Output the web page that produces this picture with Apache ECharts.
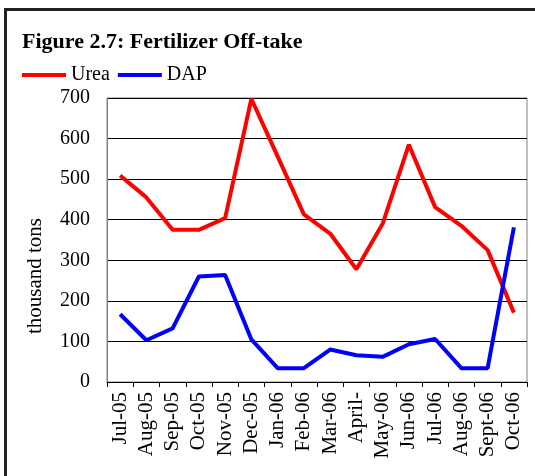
<!DOCTYPE html>
<html><head><meta charset="utf-8">
<script src="https://cdn.jsdelivr.net/npm/echarts@6/dist/echarts.min.js"></script>
<style>html,body{margin:0;padding:0;background:#fff}#c{width:535px;height:476px}</style>
</head><body><div id="c"></div>
<script>
const categories = ['Jul-05','Aug-05','Sep-05','Oct-05','Nov-05','Dec-05','Jan-06','Feb-06','Mar-06','April-','May-06','Jun-06','Jul-06','Aug-06','Sept-06','Oct-06'];
const urea = [509,455,375,375,404,698,556,413,366,278,390,585,431,385,325,171];
const dap = [167,103,132,260,264,105,34,34,80,66,62,93,106,34,34,381];
const yTicks = {min:0, max:700, interval:100};
const serif = 'Liberation Serif';
const chart = echarts.init(document.getElementById('c'), null, {renderer:'canvas'});
chart.setOption({
  animation:false,
  backgroundColor:'#fff',
  title:{text:'Figure 2.7: Fertilizer Off-take', left:17, top:26,
    textStyle:{fontFamily:serif, fontWeight:'bold', fontSize:22, color:'#000'}},
  legend:{left:17, top:60, icon:'rect', itemWidth:44, itemHeight:4, itemGap:8,
    textStyle:{fontFamily:serif, fontSize:20, color:'#000'},
    data:['Urea','DAP']},
  graphic:[
    {type:'rect', shape:{x:5.5,y:9.5,width:532,height:480}, style:{fill:'none', stroke:'#222', lineWidth:3}, z:-1},
    {type:'text', x:35, y:276, rotation:Math.PI/2,
      style:{text:'thousand tons', font:'21px "Liberation Serif"', fill:'#000', textAlign:'center', textVerticalAlign:'middle'}}
  ],
  grid:{left:107, right:8, top:98, bottom:94, show:true, borderColor:'#808080', borderWidth:1},
  xAxis:{type:'category', data:categories, boundaryGap:true,
    axisLine:{lineStyle:{color:'#000', width:1}},
    axisTick:{show:true, length:5, lineStyle:{color:'#000'}},
    axisLabel:{rotate:90, fontFamily:serif, fontSize:21, color:'#000', margin:10, interval:0}},
  yAxis:{type:'value', min:yTicks.min, max:yTicks.max, interval:yTicks.interval,
    axisLine:{show:true, lineStyle:{color:'#808080'}},
    axisTick:{show:false},
    splitLine:{lineStyle:{color:'#000', width:1}},
    axisLabel:{fontFamily:serif, fontSize:20, color:'#000', margin:17}},
  series:[
    {name:'Urea', type:'line', data:urea, symbol:'none', lineStyle:{color:'#ff0000', width:4}, itemStyle:{color:'#ff0000'}},
    {name:'DAP', type:'line', data:dap, symbol:'none', lineStyle:{color:'#0000ff', width:4}, itemStyle:{color:'#0000ff'}}
  ]
});
</script></body></html>
